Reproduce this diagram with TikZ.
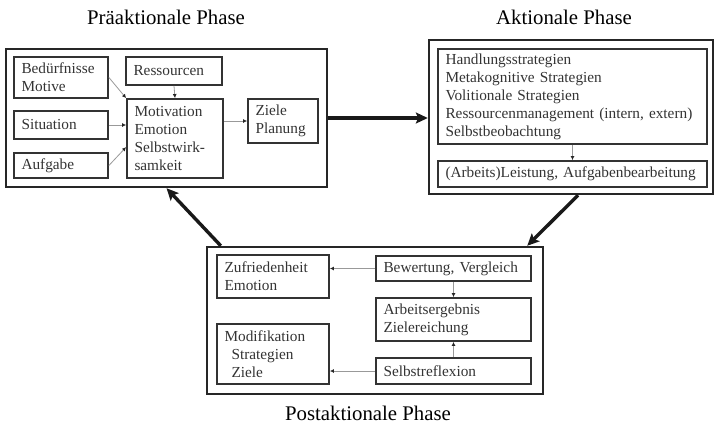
\documentclass[tikz,border=0pt]{standalone}
\usepackage{fontspec}
\setmainfont{Liberation Serif}
\usetikzlibrary{arrows.meta,calc}

\begin{document}
\begin{tikzpicture}[
  x=1pt, y=-1pt,
  >=Stealth,
  every node/.style={font=\fontsize{15.3}{18}\selectfont, text=black!80},
  phase/.style={draw=black!85, line width=2.4pt, inner sep=0pt},
  box/.style 2 args={draw=black!80, line width=1.8pt, minimum width=#1, minimum height=#2, text width=#1-15pt, inner xsep=7pt, inner ysep=1pt, align=left},
  title/.style={font=\fontsize{20.8}{24}\selectfont, text=black},
  arr/.style={-{Latex[length=4pt,width=4pt,color=black!85]}, draw=black!40, line width=0.8pt},
  bigarr/.style={-{Stealth[length=12pt,width=11pt,inset=2.5pt]}, draw=black!90, line width=3.4pt}
]
  \useasboundingbox (0,0) rectangle (714,424);

  \node[phase, minimum width=321pt, minimum height=138pt] (pre) at (166.5,118) {};
  \node[phase, minimum width=284pt, minimum height=154pt] (akt) at (571,117) {};
  \node[phase, minimum width=336pt, minimum height=147pt] (post) at (375,320.5) {};

  \node[title] (tpre) at (166,17) {Präaktionale Phase};
  \node[title] (takt) at (564,17) {Aktionale Phase};
  \node[title] (tpost) at (368,413) {Postaktionale Phase};

  \node[box={94pt}{41pt}] (bed) at (61,77.5) {Bedürfnisse\\Motive};
  \node[box={96pt}{28pt}] (res) at (174,71) {Ressourcen};
  \node[box={94pt}{28pt}] (sit) at (61,125) {Situation};
  \node[box={94pt}{25pt}] (auf) at (61,165.5) {Aufgabe};
  \node[box={96pt}{79pt}] (mot) at (175,138.5) {Motivation\\Emotion\\Selbstwirk-\\samkeit};
  \node[box={70pt}{44pt}] (ziel) at (283,121) {Ziele\\Planung};

  \node[box={269pt}{95pt}] (strat) at (572.5,96.5) {Handlungsstrategien\\Metakognitive Strategien\\Volitionale Strategien\\Ressourcenmanagement (intern, extern)\\Selbstbeobachtung};
  \node[box={269pt}{26pt}] (leist) at (572.5,174) {(Arbeits)Leistung, Aufgabenbearbeitung};

  \node[box={112pt}{43pt}] (zuf) at (273,276.5) {Zufriedenheit\\Emotion};
  \node[box={112pt}{60pt}] (mod) at (273,354) {Modifikation\\\hspace*{7pt}Strategien\\\hspace*{7pt}Ziele};
  \node[box={155pt}{25pt}] (bew) at (453.5,268.5) {Bewertung, Vergleich};
  \node[box={155pt}{43pt}] (arb) at (453.5,319.5) {Arbeitsergebnis\\Zielereichung};
  \node[box={155pt}{26pt}] (sref) at (453.5,371) {Selbstreflexion};

  \draw[arr] (bed.east) -- (mot.north west);
  \draw[arr] (res.south) -- (mot.north);
  \draw[arr] (sit.east) -- (sit.east -| mot.west);
  \draw[arr] (auf.east) -- (mot.190);
  \draw[arr] (ziel.west -| mot.east) -- (ziel.west);
  \draw[arr] (strat.south) -- (leist.north);
  \draw[arr] (bew.west) -- (bew.west -| zuf.east);
  \draw[arr] (bew.south) -- (arb.north);
  \draw[arr] (sref.north) -- (arb.south);
  \draw[arr] (sref.west) -- (sref.west -| mod.east);

  \draw[bigarr] (pre.east) -- (pre.east -| akt.west);
  \draw[bigarr] ([xshift=7pt]akt.south) -- ([xshift=-17pt]post.north east);
  \draw[bigarr] ([xshift=15pt]post.north west) -- (pre.south);
\end{tikzpicture}
\end{document}
